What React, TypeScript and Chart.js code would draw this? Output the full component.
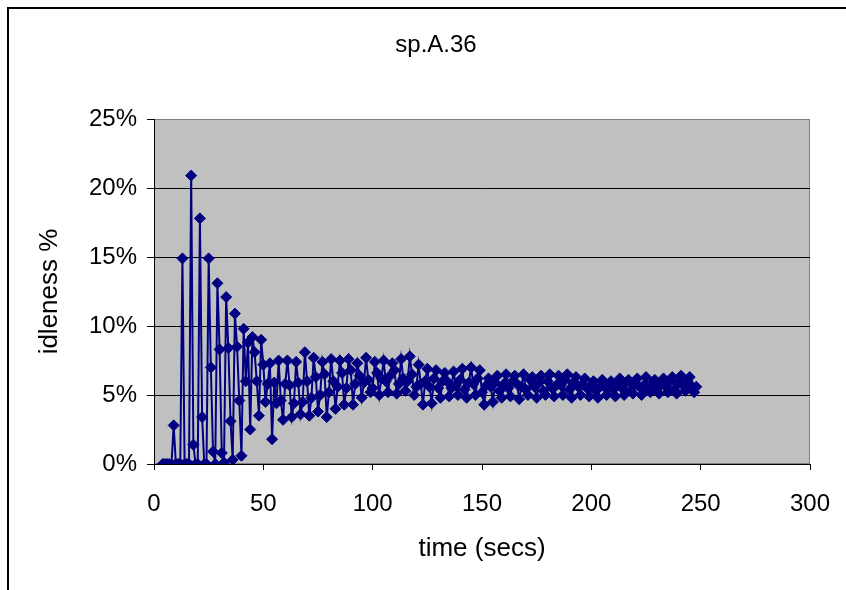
import React, { useEffect, useRef } from "react";
import { Chart, registerables } from "chart.js";

Chart.register(...registerables);

const chartTitle = "sp.A.36";
const xAxisTitle = "time (secs)";
const yAxisTitle = "idleness %";
const xTickValues = [0, 50, 100, 150, 200, 250, 300];
const yTickValues = [0, 5, 10, 15, 20, 25];

// first sample (secs, idleness %)
const firstTime = 4;
const firstValue = 0;

// start time (secs) of each 4-sample cycle
const cycleStart = [
  5, 9, 13, 17, 21, 25, 29, 33, 37, 41, 45, 49, 53, 57, 61, 65, 69, 73, 77, 81,
  85, 89, 93, 97, 101, 105, 109, 113, 117, 121, 125, 129, 133, 137, 141, 145,
  149, 153, 157, 161, 165, 169, 173, 177, 181, 185, 189, 193, 197, 201, 205,
  209, 213, 217, 221, 225, 229, 233, 237, 241, 245,
];

// idleness % of sample 1..4 of each cycle (times start, +1, +2, +3 secs)
const phaseA = [
  0, 2.8, 14.9, 20.9, 17.8, 14.9, 13.1, 12.1, 10.9, 9.8, 9.2, 9.0, 7.3, 7.5,
  7.5, 7.4, 8.1, 7.7, 7.4, 7.6, 7.5, 7.6, 7.3, 7.7, 7.4, 7.5, 7.3, 7.6, 7.8,
  7.2, 6.9, 6.8, 6.6, 6.7, 6.9, 7.0, 6.8, 6.2, 6.4, 6.5, 6.4, 6.5, 6.3, 6.4,
  6.5, 6.4, 6.5, 6.3, 6.2, 6.0, 6.1, 6.0, 6.2, 6.1, 6.2, 6.3, 6.1, 6.2, 6.3,
  6.4, 6.3,
];
const phaseB = [
  0, 0, 0, 1.4, 3.4, 7.0, 8.3, 8.4, 8.5, 6.0, 8.1, 7.2, 1.8, 4.6, 5.7, 5.9,
  6.0, 6.3, 6.5, 6.0, 6.6, 6.8, 6.4, 6.1, 6.6, 6.0, 6.8, 6.2, 6.5, 5.8, 5.6,
  5.5, 6.0, 5.7, 5.4, 5.8, 5.2, 5.6, 5.3, 5.5, 5.8, 5.4, 5.6, 5.3, 5.5, 5.7,
  5.4, 5.6, 5.5, 5.3, 5.6, 5.4, 5.5, 5.3, 5.6, 5.4, 5.5, 5.6, 5.4, 5.7, 5.6,
];
const phaseC = [
  0, 0, 0, 0, 0, 0.9, 0.8, 3.1, 4.6, 8.8, 6.0, 4.5, 5.9, 3.2, 3.4, 3.6, 3.5,
  3.8, 3.4, 4.0, 4.3, 4.3, 4.8, 5.2, 5.0, 5.2, 5.1, 5.3, 5.0, 4.3, 4.4, 4.8,
  4.9, 5.0, 4.8, 5.0, 4.3, 4.5, 4.8, 4.9, 4.7, 5.0, 4.8, 5.0, 4.9, 5.0, 4.8,
  5.0, 4.9, 4.8, 5.0, 4.9, 5.0, 5.1, 5.0, 5.2, 5.1, 5.2, 5.1, 5.3, 5.2,
];
const phaseD = [
  0, 0, 0, 0, 0, 0, 0.1, 0.3, 0.6, 2.5, 3.5, 5.8, 4.4, 5.8, 4.4, 4.5, 4.8, 5.0,
  5.2, 5.6, 5.5, 5.8, 5.9, 5.5, 6.2, 6.4, 5.8, 6.0, 5.6, 6.0, 6.2, 6.0, 5.5,
  6.1, 5.9, 6.2, 5.7, 5.9, 5.8, 6.0, 5.6, 6.1, 5.9, 6.0, 5.7, 6.1, 5.9, 5.8,
  5.7, 5.6, 5.8, 5.7, 5.9, 5.8, 5.7, 5.9, 5.8, 6.0, 5.9, 6.0, 5.6,
];

const FONT = '"Liberation Sans", Arial, Helvetica, sans-serif';
const NAVY = "#000080";

const framePlugin = {
  id: "excelFrame",
  beforeDraw(chart: any) {
    const { ctx, chartArea: a } = chart;
    ctx.save();
    ctx.fillStyle = "#ffffff";
    ctx.fillRect(0, 0, chart.width, chart.height);
    ctx.fillStyle = "#C0C0C0";
    ctx.fillRect(a.left, a.top, a.right - a.left, a.bottom - a.top);
    ctx.strokeStyle = "#808080";
    ctx.lineWidth = 1;
    ctx.strokeRect(a.left + 0.5, a.top + 0.5, a.right - a.left - 1, a.bottom - a.top - 1);
    // outer chart border
    ctx.strokeStyle = "#000000";
    ctx.lineWidth = 2;
    ctx.strokeRect(8, 8, chart.width + 40, chart.height + 40);
    // chart title
    ctx.fillStyle = "#000000";
    ctx.font = `24px ${FONT}`;
    ctx.textAlign = "center";
    ctx.textBaseline = "middle";
    ctx.fillText(chartTitle, 436, 45);
    ctx.restore();
  },
};

export default function App() {
  const ref = useRef<HTMLCanvasElement>(null);
  useEffect(() => {
    document.body.style.margin = "0";
    const points: { x: number; y: number }[] = [{ x: firstTime, y: firstValue }];
    cycleStart.forEach((t, k) => {
      points.push(
        { x: t, y: phaseA[k] },
        { x: t + 1, y: phaseB[k] },
        { x: t + 2, y: phaseC[k] },
        { x: t + 3, y: phaseD[k] }
      );
    });
    const chart = new Chart(ref.current!, {
      type: "line",
      data: {
        datasets: [
          {
            label: "idleness",
            data: points,
            borderColor: NAVY,
            backgroundColor: NAVY,
            borderWidth: 2,
            pointStyle: "rectRot",
            pointRadius: 5.5,
            pointBorderWidth: 1,
            pointBorderColor: NAVY,
            pointBackgroundColor: NAVY,
            tension: 0,
          },
        ],
      },
      options: {
        animation: false,
        responsive: false,
        devicePixelRatio: 1,
        layout: { padding: { top: 119, right: 36, bottom: 0, left: 0 } },
        plugins: {
          legend: { display: false },
          title: { display: false },
          tooltip: { enabled: false },
        },
        scales: {
          x: {
            type: "linear",
            min: 0,
            max: 300,
            afterFit: (s: any) => {
              s.height = 126;
            },
            afterBuildTicks: (s: any) => {
              s.ticks = xTickValues.map((v) => ({ value: v }));
            },
            ticks: {
              color: "#000",
              font: { family: FONT, size: 24, lineHeight: 2.6 },
              padding: 3,
              maxRotation: 0,
            },
            grid: {
              drawOnChartArea: false,
              drawTicks: true,
              tickLength: 6,
              tickColor: "#000",
              color: "#000",
            },
            border: { display: true, color: "#000", width: 1 },
            title: {
              display: true,
              text: xAxisTitle,
              color: "#000",
              font: { family: FONT, size: 26 },
              padding: { top: 0, bottom: 26 },
            },
          },
          y: {
            type: "linear",
            min: 0,
            max: 25,
            afterFit: (s: any) => {
              s.width = 154;
            },
            afterBuildTicks: (s: any) => {
              s.ticks = yTickValues.map((v) => ({ value: v }));
            },
            ticks: {
              color: "#000",
              font: { family: FONT, size: 24 },
              padding: 10,
              callback: (v: any) => `${v}%`,
            },
            grid: {
              drawOnChartArea: true,
              drawTicks: true,
              tickLength: 7,
              tickColor: "#000",
              color: (c: any) => (c.tick && c.tick.value === 25 ? "#808080" : "#000"),
              lineWidth: 1,
            },
            border: { display: true, color: "#000", width: 1 },
            title: {
              display: true,
              text: yAxisTitle,
              color: "#000",
              font: { family: FONT, size: 26 },
              padding: { top: 34, bottom: 0 },
            },
          },
        },
      },
      plugins: [framePlugin],
    });
    return () => chart.destroy();
  }, []);
  return (
    <div style={{ width: 846, height: 590 }}>
      <canvas ref={ref} width={846} height={590} style={{ display: "block", width: 846, height: 590 }} />
    </div>
  );
}
